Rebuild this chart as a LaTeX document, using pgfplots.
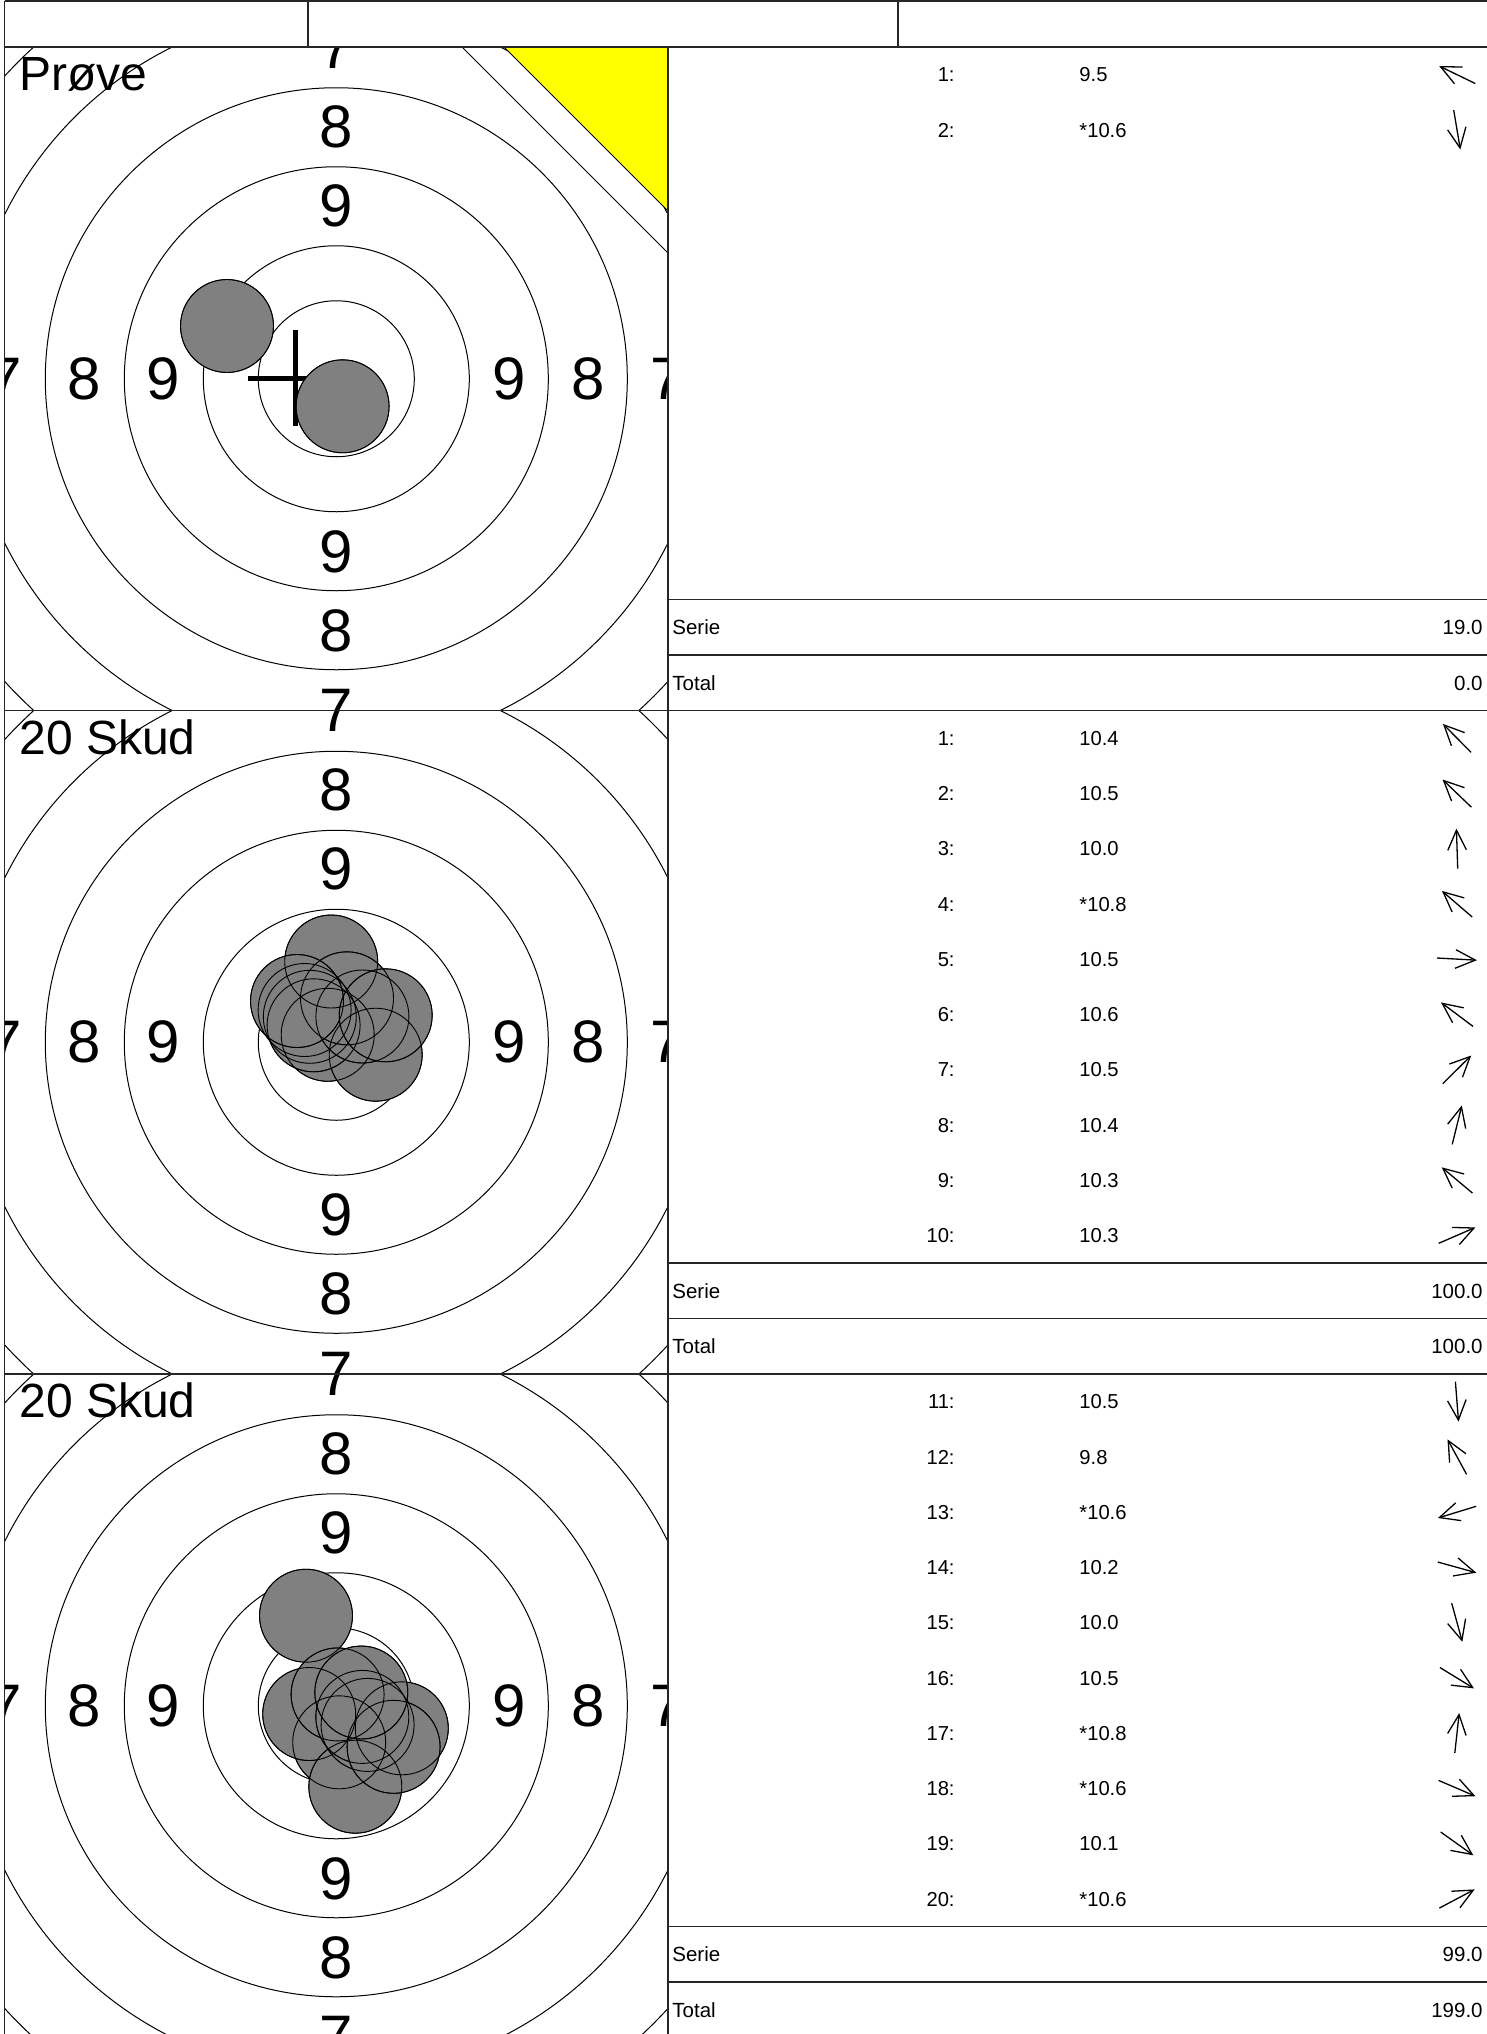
\documentclass[border=0pt]{standalone}
\usepackage{pgfplots}
\pgfplotsset{compat=1.18}
\usepackage{pgfplotstable}
\usetikzlibrary{arrows.meta}
\usepackage{fontspec}
\setmainfont{Liberation Sans}
\definecolor{holegray}{RGB}{128,128,128}
\definecolor{sighter}{RGB}{255,255,0}

% shot hole centres (px, y downward)
\pgfplotstableread{
x y
227 326
342.6 406.3
304.6 1010.0
309.8 1016.8
331.2 961.5
327.7 1034.8
375.7 1054.7
313.6 1025.3
362.4 1016.5
347.0 998.3
297 1001
385.7 1015.3
339.2 1742.3
306 1615.7
309.2 1714.0
401.8 1728.3
355.3 1786.7
367.6 1724.9
337.6 1694.4
362.3 1716.9
393.6 1746.8
361.3 1692.5
}\shots

% direction arrows (tail x, tail y, vector u, v)
\pgfplotstableread{
x y u v
1475.2 83.5 -36.0 -17.5
1453.7 110.1 6.6 39.4
1471.0 752.3 -28.1 -28.4
1471.4 807.2 -28.9 -27.7
1457.7 868.6 -1.3 -40.0
1472.2 917.0 -30.3 -26.1
1437.0 958.0 39.9 2.2
1473.0 1026.4 -32.0 -24.0
1442.8 1083.6 28.4 -28.1
1452.2 1144.4 9.6 -38.9
1472.4 1193.0 -30.7 -25.7
1438.7 1243.3 36.7 -15.9
1455.4 1381.7 3.1 39.9
1466.6 1474.4 -19.1 -35.1
1476.1 1506.3 -38.2 11.7
1437.7 1562.0 38.6 10.7
1451.7 1603.2 10.6 38.6
1439.9 1667.5 34.1 20.9
1454.8 1752.8 4.4 -39.7
1438.6 1780.4 36.8 15.8
1440.7 1832.0 32.6 23.3
1439.3 1908.1 35.3 -18.7
}\arrowtab

\tikzset{
  ring/.style={black, line width=0.5pt},
  grid/.style={black!85, line width=0.8pt},
  rl/.style={anchor=center, inner sep=0pt, font=\fontsize{30}{34}\selectfont},
  ttl/.style={anchor=base west, inner sep=0pt, font=\fontsize{24}{28}\selectfont},
  num/.style={anchor=base east, inner sep=0pt, font=\fontsize{10.1}{12}\selectfont},
  val/.style={anchor=base west, inner sep=0pt, font=\fontsize{10.1}{12}\selectfont},
  sl/.style={anchor=base west, inner sep=0pt, font=\fontsize{10.25}{12}\selectfont},
  sv/.style={anchor=base east, inner sep=0pt, font=\fontsize{10.25}{12}\selectfont},
}

\newcommand{\target}[3]{%
\begin{scope}
\clip (axis cs:4.5,#2) rectangle (axis cs:668,#3);
\draw[ring] (axis cs:336.3,#1) circle[radius=39pt];
\draw[ring] (axis cs:336.3,#1) circle[radius=66.5pt];
\draw[ring] (axis cs:336.3,#1) circle[radius=106pt];
\draw[ring] (axis cs:336.3,#1) circle[radius=145.5pt];
\draw[ring] (axis cs:336.3,#1) circle[radius=185pt];
\draw[ring] (axis cs:336.3,#1) circle[radius=224.5pt];
\node[rl,xshift=-86.5pt] at (axis cs:336.3,#1) {9};
\node[rl,xshift=86.5pt] at (axis cs:336.3,#1) {9};
\node[rl,yshift=86.5pt] at (axis cs:336.3,#1) {9};
\node[rl,yshift=-86.5pt] at (axis cs:336.3,#1) {9};
\node[rl,xshift=-126pt] at (axis cs:336.3,#1) {8};
\node[rl,xshift=126pt] at (axis cs:336.3,#1) {8};
\node[rl,yshift=126pt] at (axis cs:336.3,#1) {8};
\node[rl,yshift=-126pt] at (axis cs:336.3,#1) {8};
\node[rl,xshift=-165.5pt] at (axis cs:336.3,#1) {7};
\node[rl,xshift=165.5pt] at (axis cs:336.3,#1) {7};
\node[rl,yshift=165.5pt] at (axis cs:336.3,#1) {7};
\node[rl,yshift=-165.5pt] at (axis cs:336.3,#1) {7};
\end{scope}}

\newcommand{\shotrow}[3]{%
\node[num] at (axis cs:955,#1) {#2};
\node[val] at (axis cs:1079,#1) {#3};}

\begin{document}
\begin{tikzpicture}
\begin{axis}[x=0.5pt, y=0.5pt, xmin=0, xmax=1487, ymin=0, ymax=2034,
  y dir=reverse, hide axis, clip=true]
\fill[white] (axis cs:0,0) rectangle (axis cs:1487,2034);

% hole fills
\addplot[only marks, mark=*, mark size=23.25pt,
  mark options={fill=holegray, draw=none}] table[x=x,y=y] {\shots};

% targets
\target{378.75}{47}{710.5}
\begin{scope}
\clip (axis cs:4.5,47) rectangle (axis cs:668,710.5);
\fill[sighter] (axis cs:504,47) -- (axis cs:668,47) -- (axis cs:668,211) -- cycle;
\draw[ring] (axis cs:504,47) -- (axis cs:668,211);
\draw[ring] (axis cs:462,47) -- (axis cs:668,253);
\end{scope}
\target{1042.25}{710.5}{1374}
\target{1705.75}{1374}{2034}

% hole outlines
\addplot[only marks, mark=o, mark size=23.25pt,
  mark options={draw=black, line width=0.45pt}] table[x=x,y=y] {\shots};

% crosses
\addplot[black, line width=2.3pt] coordinates {(247.5,378.3) (343.5,378.3)};
\addplot[black, line width=2.3pt] coordinates {(295.5,330.3) (295.5,426.3)};
\addplot[black, line width=2.3pt] coordinates {(288.7,1020.7) (384.7,1020.7)};
\addplot[black, line width=2.3pt] coordinates {(336.7,972.7) (336.7,1068.7)};
\addplot[black, line width=2.3pt] coordinates {(288.7,1705.5) (384.7,1705.5)};
\addplot[black, line width=2.3pt] coordinates {(336.7,1657.5) (336.7,1753.5)};

% titles
\node[ttl] at (axis cs:19,90) {Prøve};
\node[ttl] at (axis cs:19,754) {20 Skud};
\node[ttl] at (axis cs:19,1417.5) {20 Skud};

% grid lines
\draw[grid] (axis cs:4.5,1) -- (axis cs:1487,1);
\draw[grid] (axis cs:4.5,47) -- (axis cs:1487,47);
\draw[grid] (axis cs:4.5,710.5) -- (axis cs:1487,710.5);
\draw[grid] (axis cs:4.5,1374) -- (axis cs:1487,1374);
\draw[grid] (axis cs:4.5,1) -- (axis cs:4.5,2034);
\draw[grid] (axis cs:668,47) -- (axis cs:668,2034);
\draw[grid] (axis cs:308,1) -- (axis cs:308,47);
\draw[grid] (axis cs:898,1) -- (axis cs:898,47);
\draw[grid] (axis cs:668,599.5) -- (axis cs:1487,599.5);
\draw[grid] (axis cs:668,655) -- (axis cs:1487,655);
\draw[grid] (axis cs:668,1263) -- (axis cs:1487,1263);
\draw[grid] (axis cs:668,1318.5) -- (axis cs:1487,1318.5);
\draw[grid] (axis cs:668,1926.5) -- (axis cs:1487,1926.5);
\draw[grid] (axis cs:668,1982) -- (axis cs:1487,1982);

% shot list
\shotrow{81.8}{1:}{9.5}
\shotrow{137.0}{2:}{*10.6}
\shotrow{745.3}{1:}{10.4}
\shotrow{800.5}{2:}{10.5}
\shotrow{855.8}{3:}{10.0}
\shotrow{911.0}{4:}{*10.8}
\shotrow{966.3}{5:}{10.5}
\shotrow{1021.5}{6:}{10.6}
\shotrow{1076.8}{7:}{10.5}
\shotrow{1132.0}{8:}{10.4}
\shotrow{1187.3}{9:}{10.3}
\shotrow{1242.5}{10:}{10.3}
\shotrow{1408.8}{11:}{10.5}
\shotrow{1464.0}{12:}{9.8}
\shotrow{1519.3}{13:}{*10.6}
\shotrow{1574.5}{14:}{10.2}
\shotrow{1629.8}{15:}{10.0}
\shotrow{1685.0}{16:}{10.5}
\shotrow{1740.3}{17:}{*10.8}
\shotrow{1795.5}{18:}{*10.6}
\shotrow{1850.8}{19:}{10.1}
\shotrow{1906.0}{20:}{*10.6}

% series / totals
\node[sl] at (axis cs:672,634.55) {Serie};
\node[sv] at (axis cs:1483,634.55) {19.0};
\node[sl] at (axis cs:672,690.05) {Total};
\node[sv] at (axis cs:1483,690.05) {0.0};
\node[sl] at (axis cs:672,1298.05) {Serie};
\node[sv] at (axis cs:1483,1298.05) {100.0};
\node[sl] at (axis cs:672,1353.55) {Total};
\node[sv] at (axis cs:1483,1353.55) {100.0};
\node[sl] at (axis cs:672,1961.55) {Serie};
\node[sv] at (axis cs:1483,1961.55) {99.0};
\node[sl] at (axis cs:672,2017.05) {Total};
\node[sv] at (axis cs:1483,2017.05) {199.0};

% direction arrows
\addplot[black, line width=0.65pt, quiver={u=\thisrow{u}, v=\thisrow{v}},
  -{Straight Barb[angle=50:11pt]}] table[x=x,y=y] {\arrowtab};
\end{axis}
\end{tikzpicture}
\end{document}
